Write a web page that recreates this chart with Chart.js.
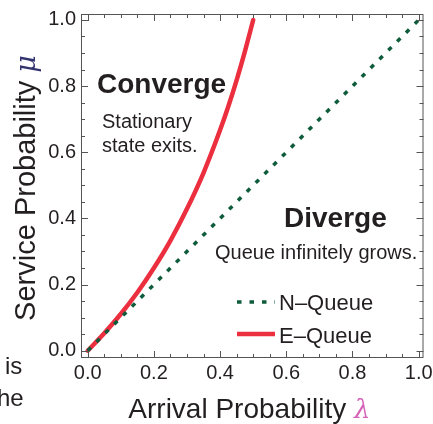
<!DOCTYPE html>
<html>
<head>
<meta charset="utf-8">
<script src="https://cdn.jsdelivr.net/npm/chart.js@4/dist/chart.umd.min.js"></script>
<style>
  html, body { margin: 0; padding: 0; background: #fff; }
  #wrap { width: 433px; height: 424px; }
</style>
</head>
<body>
<div id="wrap"><canvas id="queueChart" width="433" height="424"></canvas></div>
<script>
// E-Queue stability boundary
var eLambda = [0, 0.05, 0.1, 0.15, 0.2, 0.25, 0.3, 0.35, 0.4, 0.425, 0.45, 0.475, 0.5];
var eMu     = [0, 0.053, 0.111, 0.176, 0.25, 0.333, 0.429, 0.538, 0.667, 0.739, 0.818, 0.905, 1.0];

// N-Queue boundary (straight diagonal)
var nLambda = [0, 1];
var nMu     = [0, 1];

var majorTicks = [0, 0.2, 0.4, 0.6, 0.8, 1.0];
var minorTicks = [0.05, 0.1, 0.15, 0.25, 0.3, 0.35, 0.45, 0.5, 0.55, 0.65, 0.7, 0.75, 0.85, 0.9, 0.95];

var textColor = '#231f20';
var frameColor = '#555555';
var sans = '"Liberation Sans", Arial, sans-serif';

function toPoints(xs, ys) {
  return xs.map(function (x, i) { return { x: x, y: ys[i] }; });
}

// frame with inward ticks on all four sides
var framePlugin = {
  id: 'frame',
  afterDraw: function (chart) {
    var ctx = chart.ctx, a = chart.chartArea;
    var xs = chart.scales.x, ys = chart.scales.y;
    ctx.save();
    ctx.strokeStyle = frameColor;
    ctx.lineWidth = 1;
    ctx.strokeRect(a.left + 0.5, a.top + 0.5, a.right - a.left - 1, a.bottom - a.top - 1);
    function tick(v, len) {
      var px = Math.round(xs.getPixelForValue(v)) + 0.5;
      var py = Math.round(ys.getPixelForValue(v)) + 0.5;
      ctx.beginPath();
      ctx.moveTo(px, a.bottom); ctx.lineTo(px, a.bottom - len);
      ctx.moveTo(px, a.top); ctx.lineTo(px, a.top + len);
      ctx.moveTo(a.left, py); ctx.lineTo(a.left + len, py);
      ctx.moveTo(a.right, py); ctx.lineTo(a.right - len, py);
      ctx.stroke();
    }
    majorTicks.forEach(function (v) { tick(v, 7); });
    minorTicks.forEach(function (v) { tick(v, 4); });
    ctx.restore();
  }
};

// region labels, legend, axis titles
var textPlugin = {
  id: 'texts',
  afterDraw: function (chart) {
    var ctx = chart.ctx;
    ctx.save();
    ctx.fillStyle = textColor;
    ctx.textBaseline = 'alphabetic';
    ctx.textAlign = 'left';

    ctx.font = 'bold 28px ' + sans;
    ctx.fillText('Converge', 97, 93);
    ctx.fillText('Diverge', 284, 227);

    ctx.font = '20px ' + sans;
    ctx.fillText('Stationary', 102, 128);
    ctx.fillText('state exits.', 102, 152);
    ctx.fillText('Queue infinitely grows.', 215, 259);

    // legend
    var ds = chart.data.datasets;
    var rows = [{ d: ds[0], y: 302, base: 310 }, { d: ds[1], y: 334, base: 343 }];
    rows.forEach(function (r) {
      ctx.save();
      ctx.strokeStyle = r.d.borderColor;
      ctx.lineWidth = r.d.borderWidth;
      ctx.setLineDash(r.d.borderDash || []);
      ctx.lineCap = 'butt';
      ctx.beginPath();
      ctx.moveTo(237, r.y);
      ctx.lineTo(275, r.y);
      ctx.stroke();
      ctx.restore();
      ctx.font = '22px ' + sans;
      ctx.fillText(r.d.label, 279, r.base);
    });

    // stray text from the page
    ctx.font = '24px ' + sans;
    ctx.fillText('is', 5, 374);
    ctx.fillText('he', -3, 406);

    // x title
    var t1 = 'Arrival Probability ';
    ctx.font = '28px ' + sans;
    var w1 = ctx.measureText(t1).width;
    ctx.font = 'italic 28px "DejaVu Serif"';
    var w2 = ctx.measureText('\u03bb').width;
    var sx = 250 - (w1 + w2) / 2;
    ctx.font = '28px ' + sans;
    ctx.fillText(t1, sx, 418);
    ctx.font = 'italic 26px "DejaVu Serif"';
    ctx.fillStyle = '#d563b8';
    ctx.fillText('\u03bb', sx + w1, 418);

    // y title
    ctx.translate(35, 188);
    ctx.rotate(-Math.PI / 2);
    ctx.fillStyle = textColor;
    var t2 = 'Service Probability ';
    ctx.font = '29px ' + sans;
    var w3 = ctx.measureText(t2).width;
    ctx.font = 'italic 27px "DejaVu Serif"';
    var w4 = ctx.measureText('\u03bc').width;
    var sy = -(w3 + w4) / 2;
    ctx.font = '29px ' + sans;
    ctx.fillText(t2, sy, 0);
    ctx.font = 'italic 27px "DejaVu Serif"';
    ctx.fillStyle = '#33336f';
    ctx.fillText('\u03bc', sy + w3, 0);
    ctx.restore();
  }
};

var tickFont = { family: sans, size: 20 };

new Chart(document.getElementById('queueChart'), {
  type: 'line',
  data: {
    datasets: [{
      label: 'N\u2013Queue',
      data: toPoints(nLambda, nMu),
      borderColor: '#0e5c3b',
      borderWidth: 3.5,
      borderDash: [4.5, 8],
      pointRadius: 0,
      fill: false
    }, {
      label: 'E\u2013Queue',
      data: toPoints(eLambda, eMu),
      borderColor: '#ec2f3f',
      borderWidth: 4.5,
      borderCapStyle: 'round',
      cubicInterpolationMode: 'monotone',
      pointRadius: 0,
      fill: false
    }]
  },
  options: {
    responsive: false,
    devicePixelRatio: 1,
    animation: false,
    layout: { padding: { top: 14, right: 9.5, left: 0, bottom: 0 } },
    plugins: { legend: { display: false }, tooltip: { enabled: false } },
    scales: {
      x: {
        type: 'linear',
        min: -0.0202,
        max: 1.0145,
        afterBuildTicks: function (s) { s.ticks = majorTicks.map(function (v) { return { value: v }; }); },
        afterFit: function (s) { s.height = 66; s.paddingLeft = 0; s.paddingRight = 0; },
        grid: { display: false, drawTicks: false },
        border: { display: false },
        ticks: {
          font: tickFont, color: textColor, padding: 3, maxRotation: 0, autoSkip: false,
          callback: function (v) { return Number(v).toFixed(1); }
        }
      },
      y: {
        type: 'linear',
        min: -0.022,
        max: 1.018,
        afterBuildTicks: function (s) { s.ticks = majorTicks.map(function (v) { return { value: v }; }); },
        afterFit: function (s) { s.width = 81; s.paddingTop = 0; s.paddingBottom = 0; },
        grid: { display: false, drawTicks: false },
        border: { display: false },
        ticks: {
          font: tickFont, color: textColor, padding: 5, autoSkip: false,
          callback: function (v) { return Number(v).toFixed(1); }
        }
      }
    }
  },
  plugins: [framePlugin, textPlugin]
});
</script>
</body>
</html>
